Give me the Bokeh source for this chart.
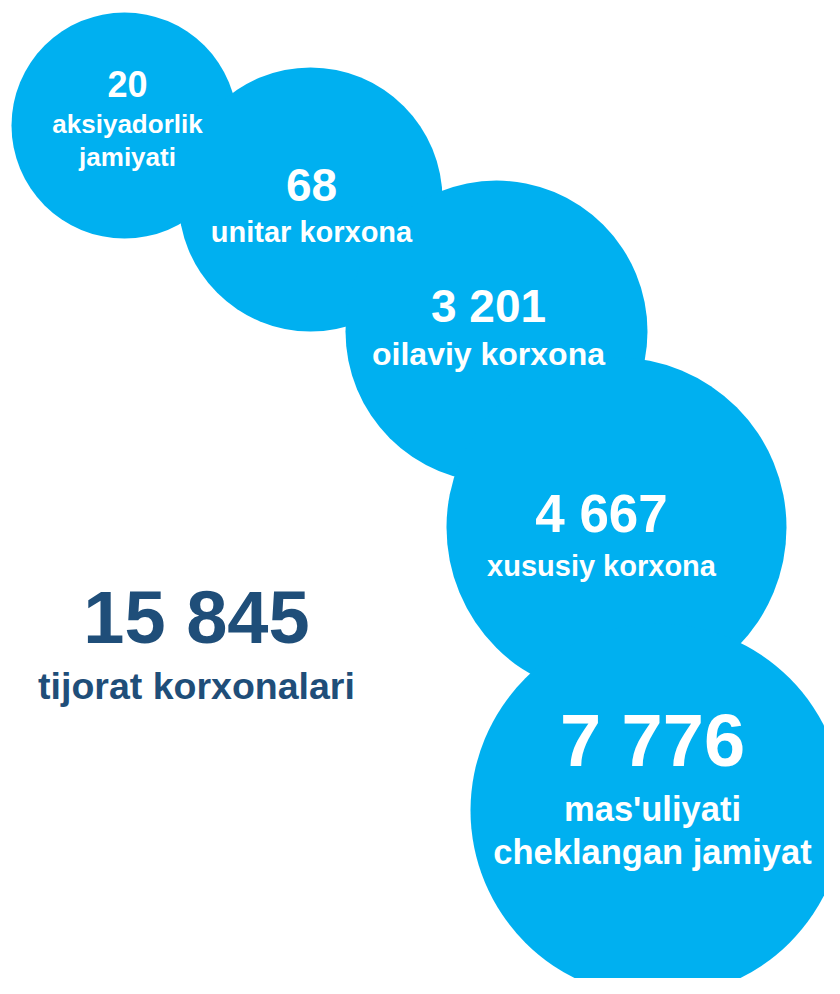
from bokeh.plotting import figure
from bokeh.models import Range1d, ColumnDataSource
from bokeh.core.properties import value
from bokeh.embed import file_html
from bokeh.resources import INLINE

# ---- data ----
categories = ["aksiyadorlik\njamiyati", "unitar korxona", "oilaviy korxona",
              "xususiy korxona", "mas'uliyati\ncheklangan jamiyat"]
counts = [20, 68, 3201, 4667, 7776]
total_count = 15845
total_label = "tijorat korxonalari"

# ---- layout (page pixel coordinates) ----
bubble_x = [124, 310, 496, 616, 657]
bubble_y = [125, 199, 331, 527, 810]
bubble_r = [113, 132, 151, 170, 187]
text_x = [127, 311, 488, 601, 652]
num_size = [36, 46, 46, 53, 74]
num_base = [97, 202, 323, 533, 768]
lab_size = [26, 29, 32, 29, 34.5]
lab_base = [133, 243, 366, 577, 822]
lab_gap = [33, 0, 0, 0, 43]
total_x, total_num_base, total_lab_base = 196, 645, 700
total_num_size, total_lab_size = 74, 37.5
BASE_SHIFT = 0.38  # compensates renderer's baseline offset (in em)

BLUE = "#00B0F0"
DARK = "#1F4E79"


def fmt(v):
    return f"{v:,}".replace(",", " ")


p = figure(width=824, height=978, x_range=Range1d(0, 824), y_range=Range1d(978, 0),
           output_backend="svg", toolbar_location=None, x_axis_type=None, y_axis_type=None,
           min_border=0, outline_line_color=None, background_fill_color="white",
           border_fill_color="white")
p.grid.visible = False

p.circle(x=bubble_x, y=bubble_y, radius=bubble_r, fill_color=BLUE, line_color=None)

tx, ty, tt, ts, tc = [], [], [], [], []


def add(x, base, text, size, color):
    tx.append(x); ty.append(base - BASE_SHIFT * size); tt.append(text)
    ts.append(f"{size}px"); tc.append(color)


for i, (cat, v) in enumerate(zip(categories, counts)):
    add(text_x[i], num_base[i], fmt(v), num_size[i], "white")
    for j, line in enumerate(cat.split("\n")):
        add(text_x[i], lab_base[i] + j * lab_gap[i], line, lab_size[i], "white")

add(total_x, total_num_base, fmt(total_count), total_num_size, DARK)
add(total_x, total_lab_base, total_label, total_lab_size, DARK)

src = ColumnDataSource(dict(x=tx, y=ty, text=tt, size=ts, color=tc))
p.text(x="x", y="y", text="text", text_font_size="size", text_color="color",
       text_font=value("Liberation Sans"), text_font_style="bold",
       text_align="center", text_baseline="alphabetic", source=src)

open("out.html", "w").write(file_html(p, INLINE))
